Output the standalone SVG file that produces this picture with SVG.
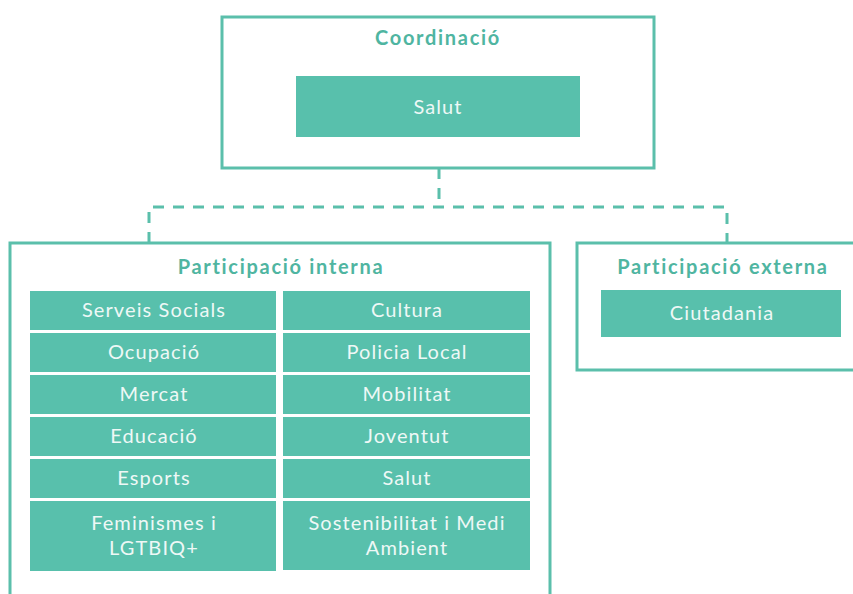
<svg xmlns="http://www.w3.org/2000/svg" width="853" height="594" viewBox="0 0 853 594">
<style>
.frame{fill:#ffffff;stroke:#5bbfab;stroke-width:3}
.cell{fill:#58c0ac}
.hd{font-family:Lato,"Open Sans","Liberation Sans",sans-serif;font-weight:700;font-size:20px;letter-spacing:1.7px;fill:#4fb5a1;text-anchor:middle}
.lb{font-family:Lato,"Open Sans","Liberation Sans",sans-serif;font-weight:400;font-size:20px;letter-spacing:1.1px;fill:#eef8f6;text-anchor:middle}
.dash{fill:none;stroke:#5bbfab;stroke-width:3;stroke-dasharray:11 9}
</style>
<rect width="853" height="594" fill="#ffffff"/>
<g id="connectors">
<path class="dash" d="M439 168 V207"/>
<path class="dash" d="M149 243 V207 H727 V243"/>
</g>
<g id="coordinacio">
<rect class="frame" x="222" y="17" width="432" height="151"/>
<text class="hd" x="438" y="45">Coordinació</text>
<rect class="cell" x="296" y="76" width="284" height="61"/>
<text class="lb" x="438" y="114">Salut</text>
</g>
<g id="participacio-interna">
<rect class="frame" x="10" y="243" width="540" height="370"/>
<text class="hd" x="281" y="274">Participació interna</text>
<rect class="cell" x="30" y="291" width="246" height="39"/>
<text class="lb" x="154" y="317">Serveis Socials</text>
<rect class="cell" x="283" y="291" width="247" height="39"/>
<text class="lb" x="407" y="317">Cultura</text>
<rect class="cell" x="30" y="333" width="246" height="39"/>
<text class="lb" x="154" y="359">Ocupació</text>
<rect class="cell" x="283" y="333" width="247" height="39"/>
<text class="lb" x="407" y="359">Policia Local</text>
<rect class="cell" x="30" y="375" width="246" height="39"/>
<text class="lb" x="154" y="401">Mercat</text>
<rect class="cell" x="283" y="375" width="247" height="39"/>
<text class="lb" x="407" y="401">Mobilitat</text>
<rect class="cell" x="30" y="417" width="246" height="39"/>
<text class="lb" x="154" y="443">Educació</text>
<rect class="cell" x="283" y="417" width="247" height="39"/>
<text class="lb" x="407" y="443">Joventut</text>
<rect class="cell" x="30" y="459" width="246" height="39"/>
<text class="lb" x="154" y="485">Esports</text>
<rect class="cell" x="283" y="459" width="247" height="39"/>
<text class="lb" x="407" y="485">Salut</text>
<rect class="cell" x="30" y="501" width="246" height="70"/>
<text class="lb" x="154" y="530">Feminismes i</text>
<text class="lb" x="154" y="555">LGTBIQ+</text>
<rect class="cell" x="283" y="501" width="247" height="69"/>
<text class="lb" x="407" y="530">Sostenibilitat i Medi</text>
<text class="lb" x="407" y="555">Ambient</text>
</g>
<g id="participacio-externa">
<rect class="frame" x="577" y="243" width="290" height="127"/>
<text class="hd" x="723" y="274">Participació externa</text>
<rect class="cell" x="601" y="290" width="240" height="47"/>
<text class="lb" x="722" y="320">Ciutadania</text>
</g>
</svg>
